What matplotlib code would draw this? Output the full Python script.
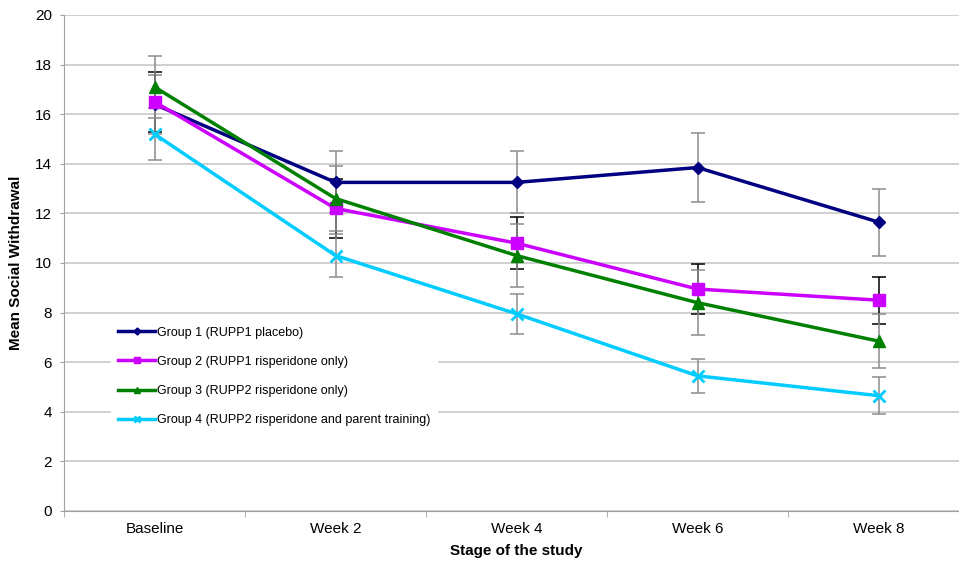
import numpy as np
import matplotlib
matplotlib.use("Agg")
import matplotlib.pyplot as plt

plt.rcParams["font.family"] = ["Liberation Sans", "DejaVu Sans"]

stages = ["Baseline", "Week 2", "Week 4", "Week 6", "Week 8"]
labels = [
    "Group 1 (RUPP1 placebo)",
    "Group 2 (RUPP1 risperidone only)",
    "Group 3 (RUPP2 risperidone only)",
    "Group 4 (RUPP2 risperidone and parent training)",
]

g1_mean = [16.4, 13.25, 13.25, 13.85, 11.65]
g2_mean = [16.5, 12.2, 10.8, 8.95, 8.5]
g3_mean = [17.1, 12.6, 10.3, 8.4, 6.85]
g4_mean = [15.2, 10.3, 7.95, 5.45, 4.65]

g1_err = [1.2, 1.25, 1.25, 1.4, 1.35]
g2_err = [1.2, 1.2, 1.05, 1.0, 0.95]
g3_err = [1.25, 1.3, 1.28, 1.3, 1.1]
g4_err = [1.05, 0.85, 0.8, 0.68, 0.75]

means = [g1_mean, g2_mean, g3_mean, g4_mean]
errs = [g1_err, g2_err, g3_err, g4_err]
colors = ["#000080", "#CC00FF", "#008000", "#00CCFF"]
markers = ["D", "s", "^", "x"]
msizes = [6, 8, 8, 8]
err_colors = ["#8C8C8C", "#000000", "#8C8C8C", "#8C8C8C"]

fig = plt.figure(figsize=(9.59, 5.68), dpi=100)
ax = fig.add_axes([64 / 959, 1 - 511 / 568, 905 / 959, 496 / 568])

x = np.arange(len(stages))
handles = []
for m, e, c, mk, ms, ec, lab in zip(means, errs, colors, markers, msizes, err_colors, labels):
    ax.errorbar(x, m, yerr=e, fmt="none", ecolor=ec, elinewidth=1.1,
                capsize=5, capthick=1.1, zorder=2)
    h, = ax.plot(x, m, color=c, lw=2.5, marker=mk, ms=ms, mew=2 if mk == "x" else 1,
                 mec=c, mfc=c, label=lab, zorder=3)
    handles.append(h)

ax.set_xlim(-0.5, len(stages) - 0.5)
ax.set_ylim(0, 20)
ax.set_yticks(np.arange(0, 21, 2))
ax.set_xticks(x)
ax.set_xticklabels(stages, fontsize=11)
ax.set_xticks(np.arange(-0.5, len(stages), 1), minor=True)
ax.tick_params(axis="x", which="major", length=0, pad=8)
ax.tick_params(axis="x", which="minor", length=4, color="#A0A0A0")
ax.tick_params(axis="y", length=3, color="#A0A0A0", labelsize=11, pad=5.5)
ax.yaxis.grid(True, color="#C8C8C8", lw=1.2)
ax.set_axisbelow(True)
for s in ["top", "right"]:
    ax.spines[s].set_visible(False)
for s in ["left", "bottom"]:
    ax.spines[s].set_color("#A0A0A0")

ax.set_ylabel("Mean Social Withdrawal", fontsize=11, fontweight="bold", labelpad=9)
ax.set_xlabel("Stage of the study", fontsize=11, fontweight="bold", labelpad=6)

leg = ax.legend(handles=handles, loc="lower left", bbox_to_anchor=(0.045, 0.143),
                frameon=True, fontsize=9, labelspacing=1.38, handlelength=2.9,
                handletextpad=0.15, markerscale=0.6, borderpad=0.6)
leg.get_frame().set_facecolor("white")
leg.get_frame().set_edgecolor("white")
leg.get_frame().set_alpha(1)
leg.get_frame().set_boxstyle("square", pad=0)
leg.set_zorder(1.5)

fig.savefig("out.png", dpi=100)
